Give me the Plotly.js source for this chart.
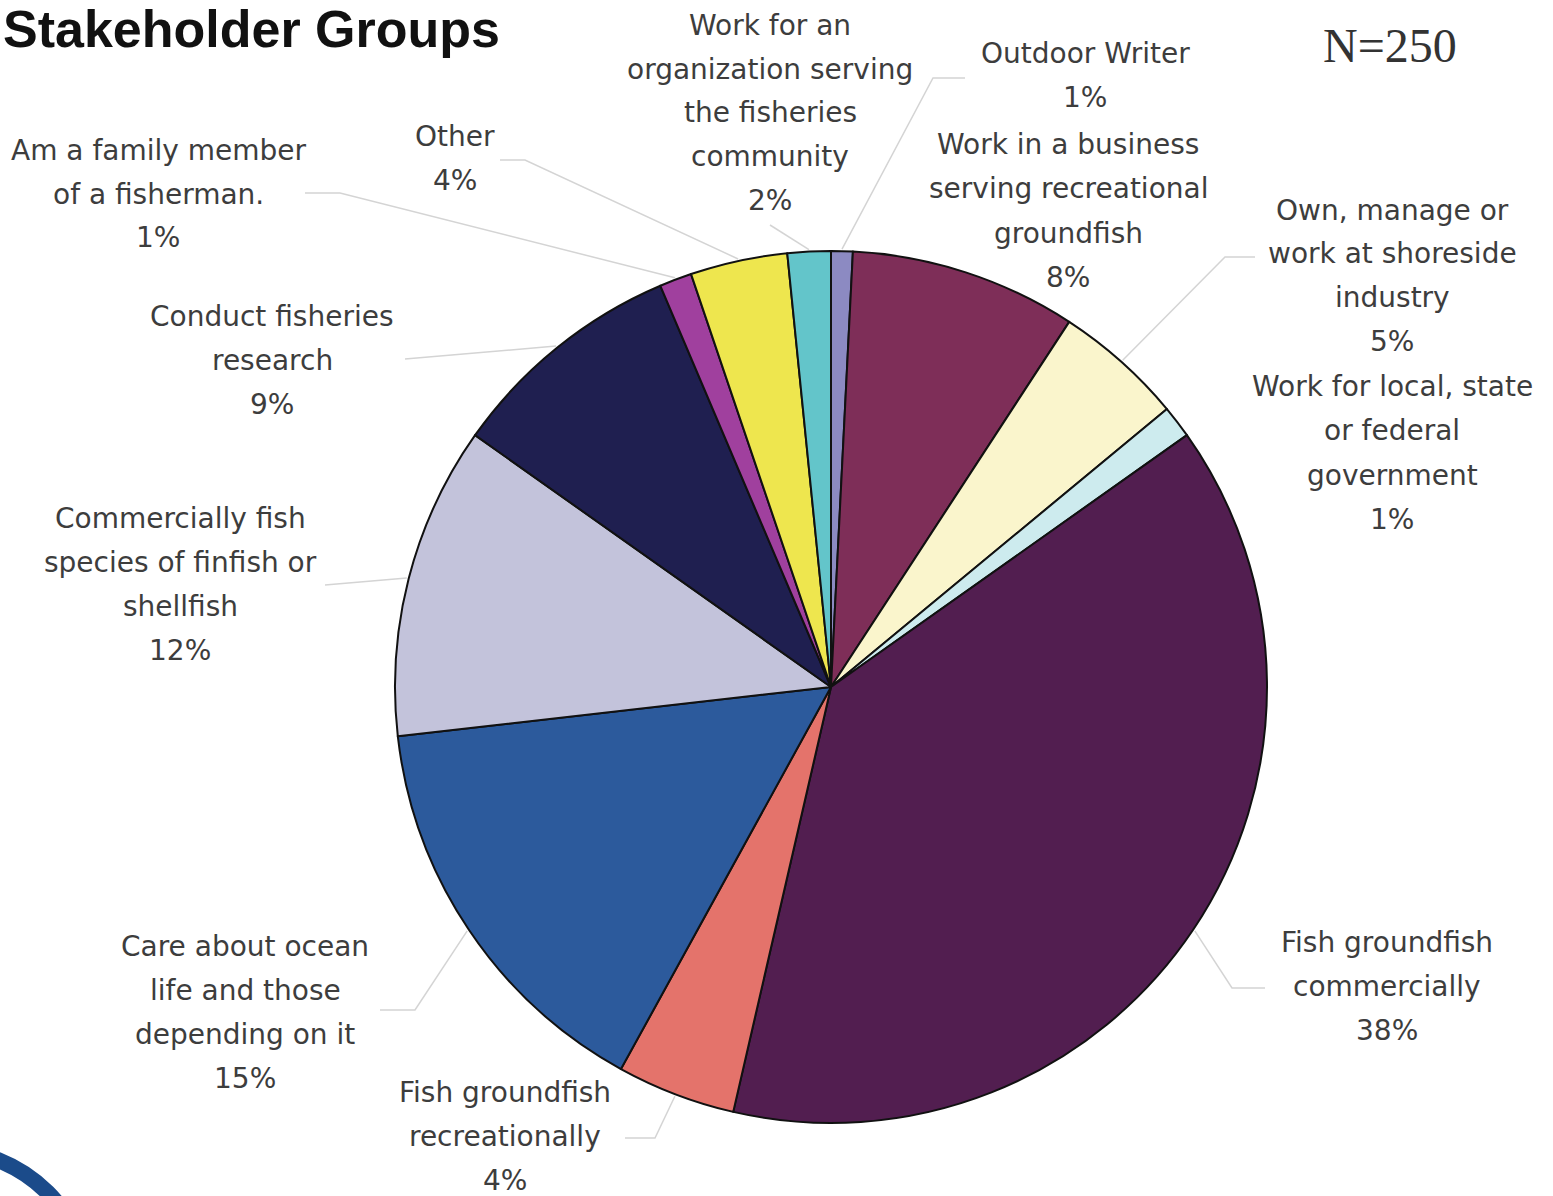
<!DOCTYPE html>
<html>
<head>
<meta charset="utf-8">
<script src="https://cdn.plot.ly/plotly-3.0.1.min.js"></script>
<style>html,body{margin:0;padding:0;background:#fff;}</style>
</head>
<body>
<div id="chart" style="width:1553px;height:1196px;"></div>
<script>
// ---- data ----
const categories = [
  "Outdoor Writer",
  "Work in a business<br>serving recreational<br>groundfish",
  "Own, manage or<br>work at shoreside<br>industry",
  "Work for local, state<br>or federal<br>government",
  "Fish groundfish<br>commercially",
  "Fish groundfish<br>recreationally",
  "Care about ocean<br>life and those<br>depending on it",
  "Commercially fish<br>species of finfish or<br>shellfish",
  "Conduct fisheries<br>research",
  "Am a family member<br>of a fisherman.",
  "Other",
  "Work for an<br>organization serving<br>the fisheries<br>community"
];
const values = [0.8, 8.4, 4.8, 1.2, 38.4, 4.4, 15.2, 11.6, 8.8, 1.2, 3.6, 1.6];
const colors = ["#8C8AC2","#7E2E58","#FAF5CC","#CDEBEE","#521E50","#E4736B",
                "#2C5A9C","#C3C3DB","#1F1F50","#A0409E","#EEE64E","#63C5CA"];
const chartTitle = "Stakeholder Groups";
const sampleNote = "N=250";

// ---- layout geometry (pixels) ----
const W = 1553, H = 1196;
const CX = 831, CY = 687, R = 436;
const px = x => x / W;
const py = y => 1 - y / H;

// label anchor: [center x, first line center y]
const labelPos = [
  [1085, 53], [1068, 145], [1392, 210], [1392, 387], [1387, 942], [505, 1092],
  [245, 946], [180, 518], [272, 316], [158, 150], [455, 137], [770, 25]
];
const LINE = 44;
// leader line waypoints after slice edge (null = no leader)
const leaders = [
  [[933, 78], [965, 78]],
  null,
  [[1225, 257], [1255, 257]],
  null,
  [[1232, 988], [1265, 988]],
  [[655, 1138], [625, 1138]],
  [[415, 1010], [380, 1010]],
  [[325, 585]],
  [[405, 359]],
  [[340, 193], [305, 193]],
  [[525, 160], [500, 160]],
  [[770, 225]]
];

const total = values.reduce((a, b) => a + b, 0);
const annotations = [];
const shapes = [];
let cum = 0;
values.forEach((v, i) => {
  const mid = (cum + v / 2) / total * 2 * Math.PI;
  cum += v;
  const ex = CX + (R + 2) * Math.sin(mid);
  const ey = CY - (R + 2) * Math.cos(mid);
  const lines = categories[i].split("<br>");
  lines.push(Math.round(v / total * 100) + "%");
  lines.forEach((t, k) => {
    annotations.push({
      x: px(labelPos[i][0]), y: py(labelPos[i][1] + k * LINE),
      xref: "paper", yref: "paper", xanchor: "center", yanchor: "middle",
      text: t, showarrow: false,
      font: {family: "DejaVu Sans, Arial, sans-serif", size: 28, color: "#3d3d3d"}
    });
  });
  if (leaders[i]) {
    let d = `M ${px(ex)} ${py(ey)}`;
    leaders[i].forEach(p => { d += ` L ${px(p[0])} ${py(p[1])}`; });
    shapes.push({type: "path", xref: "paper", yref: "paper", path: d,
                 line: {color: "#d4d4d4", width: 1.5}});
  }
});

annotations.push({
  x: px(1), y: py(29), xref: "paper", yref: "paper", xanchor: "left", yanchor: "middle",
  text: "<b>" + chartTitle + "</b>", showarrow: false,
  font: {family: "Liberation Sans, Arial, sans-serif", size: 52, color: "#111"}
});
annotations.push({
  x: px(1390), y: py(45), xref: "paper", yref: "paper", xanchor: "center", yanchor: "middle",
  text: sampleNote, showarrow: false,
  font: {family: "Liberation Serif, Times New Roman, serif", size: 48, color: "#333"}
});

// decorative logo ring bottom-left
shapes.push({type: "circle", xref: "paper", yref: "paper",
  x0: px(-200), x1: px(90), y0: py(1440), y1: py(1150),
  line: {color: "#1B4B8A", width: 16}, fillcolor: "rgba(0,0,0,0)", layer: "above"});

const trace = {
  type: "pie",
  labels: categories,
  values: values,
  sort: false,
  direction: "clockwise",
  rotation: 0,
  textinfo: "none",
  hoverinfo: "label+percent",
  marker: {colors: colors, line: {color: "#111", width: 2}},
  domain: {x: [px(CX - R), px(CX + R)], y: [py(CY + R), py(CY - R)]},
  showlegend: false
};

Plotly.newPlot("chart", [trace], {
  width: W, height: H,
  margin: {l: 0, r: 0, t: 0, b: 0},
  paper_bgcolor: "#fff",
  showlegend: false,
  annotations: annotations,
  shapes: shapes
}, {displayModeBar: false, staticPlot: true});
</script>
</body>
</html>
